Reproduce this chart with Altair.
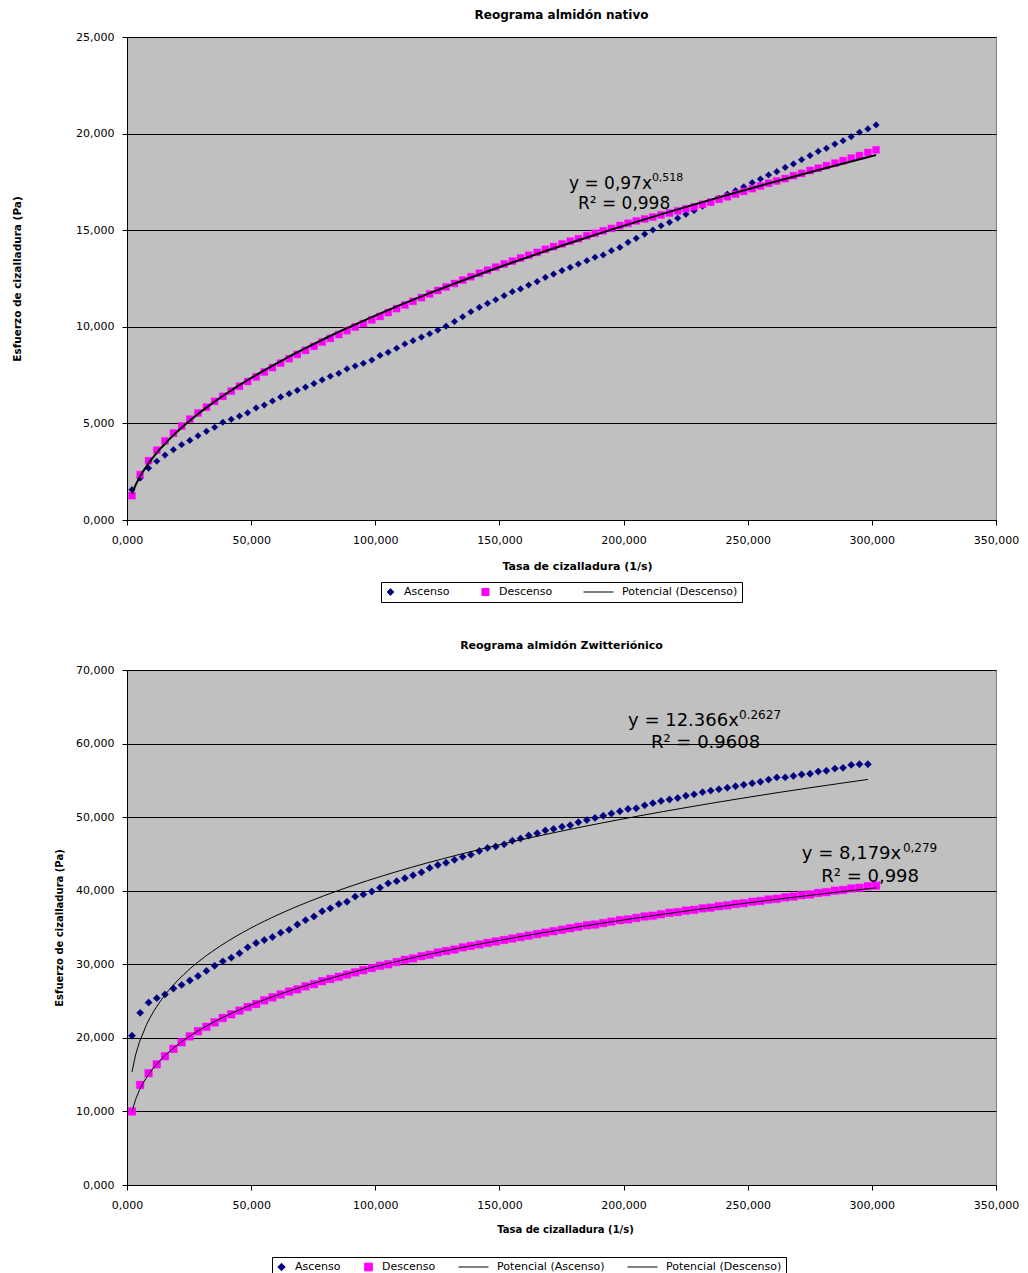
import altair as alt
import pandas as pd

FONT = "DejaVu Sans"
NAVY = "#000080"
MAGENTA = "#FF00FF"
BLACK = "#000000"

# shear rate (1/s) of each reading
X_VALUES = [
    2.0, 5.3, 8.7, 12.0, 15.3, 18.7, 22.0, 25.3, 28.6, 32.0,
    35.3, 38.6, 42.0, 45.3, 48.6, 52.0, 55.3, 58.6, 61.9, 65.3,
    68.6, 71.9, 75.3, 78.6, 81.9, 85.3, 88.6, 91.9, 95.2, 98.6,
    101.9, 105.2, 108.6, 111.9, 115.2, 118.6, 121.9, 125.2, 128.5, 131.9,
    135.2, 138.5, 141.9, 145.2, 148.5, 151.9, 155.2, 158.5, 161.8, 165.2,
    168.5, 171.8, 175.2, 178.5, 181.8, 185.2, 188.5, 191.8, 195.1, 198.5,
    201.8, 205.1, 208.5, 211.8, 215.1, 218.5, 221.8, 225.1, 228.4, 231.8,
    235.1, 238.4, 241.8, 245.1, 248.4, 251.8, 255.1, 258.4, 261.7, 265.1,
    268.4, 271.7, 275.1, 278.4, 281.7, 285.1, 288.4, 291.7, 295.0, 298.4,
    301.7,
]

# native starch
TOP_ASC = [
    1.57, 2.17, 2.68, 3.04, 3.36, 3.64, 3.90, 4.12, 4.36, 4.59,
    4.80, 5.06, 5.21, 5.38, 5.55, 5.80, 5.95, 6.16, 6.37, 6.54,
    6.71, 6.88, 7.06, 7.25, 7.44, 7.59, 7.82, 7.97, 8.11, 8.28,
    8.52, 8.68, 8.89, 9.11, 9.28, 9.47, 9.64, 9.83, 10.03, 10.27,
    10.52, 10.78, 11.01, 11.21, 11.40, 11.61, 11.82, 11.96, 12.16, 12.34,
    12.56, 12.73, 12.91, 13.08, 13.25, 13.42, 13.60, 13.72, 13.94, 14.11,
    14.37, 14.58, 14.80, 15.01, 15.23, 15.41, 15.62, 15.82, 16.01, 16.24,
    16.44, 16.65, 16.87, 17.05, 17.25, 17.46, 17.65, 17.86, 18.03, 18.25,
    18.43, 18.65, 18.86, 19.08, 19.24, 19.46, 19.63, 19.84, 20.07, 20.24,
    20.45,
]
TOP_DESC = [
    1.26, 2.35, 3.07, 3.61, 4.09, 4.50, 4.86, 5.22, 5.54, 5.84,
    6.14, 6.40, 6.67, 6.92, 7.17, 7.41, 7.66, 7.89, 8.12, 8.35,
    8.57, 8.78, 8.99, 9.21, 9.40, 9.60, 9.80, 9.99, 10.17, 10.36,
    10.54, 10.74, 10.94, 11.13, 11.32, 11.51, 11.70, 11.88, 12.06, 12.24,
    12.42, 12.59, 12.77, 12.93, 13.09, 13.25, 13.40, 13.56, 13.70, 13.85,
    14.01, 14.15, 14.29, 14.43, 14.56, 14.71, 14.84, 14.97, 15.09, 15.24,
    15.36, 15.48, 15.58, 15.68, 15.79, 15.89, 16.00, 16.11, 16.21, 16.34,
    16.45, 16.60, 16.73, 16.87, 17.01, 17.15, 17.29, 17.43, 17.55, 17.67,
    17.82, 17.94, 18.09, 18.21, 18.34, 18.47, 18.60, 18.73, 18.86, 19.02,
    19.16,
]

# zwitterionic starch
BOT_ASC = [
    20.3, 23.4, 24.8, 25.4, 25.9, 26.7, 27.2, 27.8, 28.4, 29.1,
    29.8, 30.4, 30.9, 31.5, 32.3, 32.9, 33.3, 33.7, 34.3, 34.7,
    35.4, 36.0, 36.5, 37.2, 37.6, 38.2, 38.5, 39.2, 39.5, 39.9,
    40.4, 41.0, 41.3, 41.7, 42.1, 42.5, 43.1, 43.5, 43.8, 44.2,
    44.6, 44.9, 45.4, 45.8, 46.0, 46.3, 46.8, 47.1, 47.5, 47.8,
    48.2, 48.4, 48.7, 48.9, 49.3, 49.6, 49.9, 50.2, 50.5, 50.8,
    51.1, 51.2, 51.6, 51.9, 52.2, 52.4, 52.6, 52.9, 53.1, 53.4,
    53.6, 53.8, 54.0, 54.2, 54.4, 54.6, 54.8, 55.1, 55.4, 55.4,
    55.6, 55.8, 55.9, 56.2, 56.3, 56.6, 56.7, 57.1, 57.2, 57.2,
]
BOT_DESC = [
    10.0, 13.6, 15.2, 16.4, 17.5, 18.5, 19.4, 20.2, 20.9, 21.5,
    22.1, 22.7, 23.2, 23.7, 24.2, 24.6, 25.1, 25.5, 25.9, 26.3,
    26.6, 27.0, 27.3, 27.7, 28.0, 28.3, 28.6, 28.9, 29.2, 29.5,
    29.8, 30.0, 30.3, 30.6, 30.8, 31.1, 31.3, 31.6, 31.8, 32.0,
    32.3, 32.5, 32.7, 32.9, 33.1, 33.3, 33.5, 33.7, 33.9, 34.1,
    34.3, 34.5, 34.7, 34.9, 35.1, 35.3, 35.4, 35.6, 35.8, 36.0,
    36.1, 36.3, 36.5, 36.6, 36.8, 37.0, 37.1, 37.3, 37.4, 37.6,
    37.7, 37.9, 38.0, 38.2, 38.3, 38.5, 38.6, 38.8, 38.9, 39.1,
    39.2, 39.4, 39.5, 39.7, 39.8, 40.0, 40.1, 40.3, 40.4, 40.6,
    40.7,
]

X_TICKS = [0, 50, 100, 150, 200, 250, 300, 350]
TOP_Y_TICKS = [0, 5, 10, 15, 20, 25]
BOT_Y_TICKS = [0, 10, 20, 30, 40, 50, 60, 70]

TOP_SERIES = ["Ascenso", "Descenso", "Potencial (Descenso)"]
BOT_SERIES = ["Ascenso", "Descenso", "Potencial (Ascenso)", "Potencial (Descenso)"]

# trend equations: (text, x, y)
TOP_BIG = [("y = 0,97x", 178.0, 17.40), ("R² = 0,998", 181.6, 16.34)]
TOP_SMALL = [("0,518", 211.4, 17.71)]
BOT_BIG = [("y = 12.366x", 201.8, 63.1), ("R² = 0.9608", 211.0, 60.1),
           ("y = 8,179x", 271.8, 45.0), ("R² = 0,998", 279.6, 41.9)]
BOT_SMALL = [("0.2627", 246.5, 63.9), ("0,279", 312.5, 45.8)]

LABEL_EXPR = "replace(format(datum.value, '.3f'), '.', ',')"


def panel(asc, desc, title, title_fs, title_offset, y_ticks, height, series,
          shapes, colors, sizes, trends, trend_width, big, small, big_fs,
          small_fs, ytitle_x, ytitle_fs, xtitle_x, xtitle_y, xtitle_fs,
          legend_x, legend_y, legend_cp):
    pts = pd.DataFrame({
        "x": X_VALUES[:len(asc)] + X_VALUES[:len(desc)],
        "y": asc + desc,
        "serie": ["Ascenso"] * len(asc) + ["Descenso"] * len(desc),
    })
    xenc = alt.X("x:Q", scale=alt.Scale(domain=[0, 350], nice=False, zero=False),
                 axis=alt.Axis(values=X_TICKS, labelExpr=LABEL_EXPR, labelFlush=False,
                               title="Tasa de cizalladura (1/s)", grid=False,
                               tickSize=5, labelPadding=9, titleFontSize=xtitle_fs,
                               titleX=xtitle_x, titleY=xtitle_y, titleAlign="center",
                               titleBaseline="middle"))
    yenc = alt.Y("y:Q", scale=alt.Scale(domain=[0, y_ticks[-1]], nice=False),
                 axis=alt.Axis(values=y_ticks, labelExpr=LABEL_EXPR, labelFlush=False,
                               title="Esfuerzo de cizalladura (Pa)", grid=True,
                               gridColor=BLACK, gridWidth=1, tickSize=5,
                               labelPadding=8, titleX=ytitle_x, titleY=height / 2,
                               titleAngle=270, titleAlign="center",
                               titleBaseline="middle", titleFontSize=ytitle_fs))
    legend = alt.Legend(title=None, orient="none", legendX=legend_x,
                        legendY=legend_y, direction="horizontal",
                        strokeColor=BLACK, fillColor="white", padding=4,
                        clipHeight=12,
                        labelFont=FONT, labelFontSize=11, labelColor=BLACK,
                        labelOffset=8, columnPadding=legend_cp,
                        symbolStrokeWidth=1)
    fill = alt.Fill("serie:N", scale=alt.Scale(domain=series, range=colors), legend=legend)
    stroke = alt.Stroke("serie:N", scale=alt.Scale(domain=series, range=colors), legend=legend)
    shape = alt.Shape("serie:N", scale=alt.Scale(domain=series, range=shapes), legend=legend)
    size = alt.Size("serie:N", scale=alt.Scale(type="ordinal", domain=series, range=sizes),
                    legend=legend)

    points = alt.Chart(pts).mark_point(filled=True, opacity=1, strokeWidth=0.3).encode(
        x=xenc, y=yenc, fill=fill, stroke=stroke, shape=shape, size=size)
    layers = [points]
    for s in trends:
        line = (
            alt.Chart(pts)
            .transform_filter(alt.datum.serie == s)
            .transform_regression("x", "y", method="pow")
            .transform_calculate(serie=f"'Potencial ({s})'")
            .mark_line(strokeWidth=trend_width)
            .encode(x=xenc, y=yenc, stroke=stroke)
        )
        layers.append(line)
    big_df = pd.DataFrame(big, columns=["text", "x", "y"])
    small_df = pd.DataFrame(small, columns=["text", "x", "y"])
    layers.append(alt.Chart(big_df).mark_text(align="left", baseline="middle", font=FONT,
                                              fontSize=big_fs, color=BLACK)
                  .encode(x=xenc, y=yenc, text="text:N"))
    layers.append(alt.Chart(small_df).mark_text(align="left", baseline="middle", font=FONT,
                                                fontSize=small_fs, color=BLACK)
                  .encode(x=xenc, y=yenc, text="text:N"))
    return alt.layer(*layers).properties(
        width=869, height=height,
        title=alt.TitleParams(title, font=FONT, fontSize=title_fs, fontWeight="bold",
                              color=BLACK, offset=title_offset, anchor="middle"),
    )


top = panel(TOP_ASC, TOP_DESC, "Reograma  almidón nativo", 12, 9, TOP_Y_TICKS, 483,
            TOP_SERIES, ["diamond", "square", "stroke"], [NAVY, MAGENTA, BLACK],
            [45, 50, 900], ["Descenso"], 2, TOP_BIG, TOP_SMALL, 17, 11,
            -110, 10.5, 450, 46, 11, 254, 545, 30)
bottom = panel(BOT_ASC, BOT_DESC, "Reograma almidón Zwitteriónico", 11, 13, BOT_Y_TICKS, 515,
               BOT_SERIES, ["diamond", "square", "stroke", "stroke"],
               [NAVY, MAGENTA, BLACK, BLACK], [55, 60, 900, 900],
               ["Ascenso", "Descenso"], 1, BOT_BIG, BOT_SMALL, 18, 12,
               -68, 10, 438, 44, 10, 145, 587, 22)

chart = (
    alt.vconcat(top, bottom, spacing=36)
    .resolve_scale(fill="independent", stroke="independent",
                   shape="independent", size="independent")
    .properties(padding={"left": 3, "top": 0, "right": 0, "bottom": 0},
                background="white")
    .configure_axis(labelFont=FONT, labelFontSize=11, labelColor=BLACK,
                    titleFont=FONT, titleFontSize=11, titleFontWeight="bold",
                    titleColor=BLACK, domainColor=BLACK, tickColor=BLACK)
    .configure_view(fill="#C0C0C0", stroke="#808080")
)

chart.save("out.html", embed_options={"renderer": "svg", "actions": False})
